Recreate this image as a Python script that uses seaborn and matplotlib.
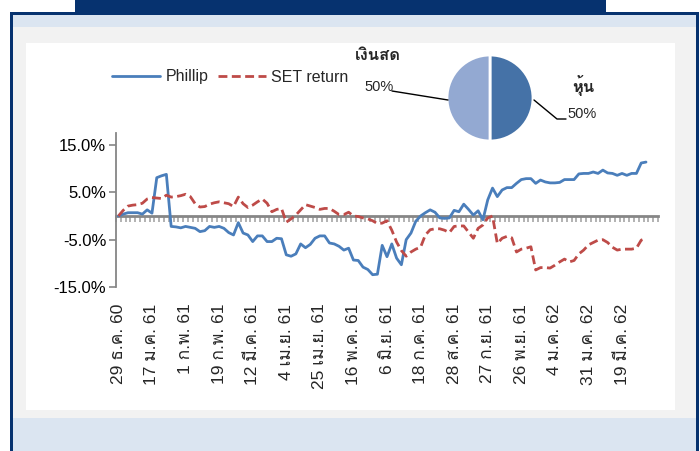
import numpy as np
import pandas as pd
import matplotlib
matplotlib.use("Agg")
import matplotlib.pyplot as plt
import seaborn as sns
from matplotlib import font_manager as fm
from matplotlib.ft2font import FT2Font
from matplotlib.patches import Rectangle
from matplotlib.lines import Line2D

# ---------------- data ----------------
phillip = [
    0.0, 0.4, 0.7, 0.7, 0.7, 0.4, 1.3, 0.6, 8.1, 8.5,
    8.8, -2.2, -2.3, -2.5, -2.2, -2.4, -2.6, -3.3, -3.1, -2.2,
    -2.4, -2.2, -2.6, -3.5, -4.0, -1.4, -3.6, -4.0, -5.4, -4.2,
    -4.2, -5.4, -5.4, -4.7, -4.8, -8.2, -8.5, -8.0, -5.9, -6.7,
    -6.0, -4.7, -4.2, -4.2, -5.7, -5.9, -6.4, -7.2, -6.8, -9.3,
    -9.4, -10.8, -11.3, -12.4, -12.3, -6.2, -8.6, -5.9, -8.9, -10.3,
    -5.0, -3.6, -1.1, 0.0, 0.7, 1.3, 0.8, -0.4, -0.5, -0.4,
    1.2, 0.9, 2.5, 1.4, 0.2, 1.1, -0.8, 3.4, 5.9, 4.1,
    5.5, 6.0, 6.0, 6.9, 7.7, 7.9, 7.9, 6.9, 7.6, 7.2,
    7.0, 7.0, 7.1, 7.7, 7.7, 7.7, 8.9, 9.0, 9.0, 9.3,
    9.0, 9.7, 9.1, 9.0, 8.6, 9.0, 8.6, 9.0, 9.0, 11.2,
    11.4,
]
set_return = [
    0.0, 1.2, 2.1, 2.3, 2.4, 2.7, 3.6, 3.9, 3.8, 3.7,
    4.4, 4.0, 4.1, 4.3, 4.6, 4.1, 2.6, 1.9, 2.0, 2.5,
    2.8, 3.0, 2.8, 2.6, 2.0, 4.0, 2.6, 1.8, 2.3, 3.0,
    3.6, 2.7, 0.9, 1.4, 1.6, -1.3, -0.6, 0.2, 1.3, 2.4,
    2.1, 1.8, 1.4, 1.6, 1.6, 1.0, 0.3, 0.3, 0.8, 0.0,
    -0.1, -0.4, -0.6, -1.0, -1.6, -1.5, -1.0, -3.0, -5.5, -7.3,
    -8.5, -7.6, -7.0, -6.6, -4.0, -2.9, -2.7, -2.7, -3.0, -3.5,
    -2.2, -2.1, -2.1, -3.4, -4.7, -2.6, -1.9, -0.4, 0.0, -5.8,
    -4.7, -4.3, -4.6, -7.6, -7.0, -6.8, -6.5, -11.4, -10.9, -10.9,
    -11.0, -10.4, -9.7, -9.1, -9.7, -9.4, -8.0, -7.2, -6.1, -5.6,
    -5.1, -5.0, -5.6, -6.6, -7.2, -7.0, -7.0, -7.0, -6.8, -5.1,
    -4.7,
]
date_labels = [
    "29 ธ.ค. 60", "17 ม.ค. 61", "1 ก.พ. 61", "19 ก.พ. 61", "12 มี.ค. 61",
    "4 เม.ย. 61", "25 เม.ย. 61", "16 พ.ค. 61", "6 มิ.ย. 61", "18 ก.ค. 61",
    "28 ส.ค. 61", "27 ก.ย. 61", "26 พ.ย. 61", "4 ม.ค. 62", "31 ม.ค. 62",
    "19 มี.ค. 62",
]
series_names = ["Phillip", "SET return"]
yticks = [-15, -5, 5, 15]
pie_labels = ["หุ้น", "เงินสด"]
pie_values = [50, 50]

LABEL_STEP = 7
N_CAT = 113

# ---------------- fonts ----------------
def find_font(chars):
    seen = set()
    for f in fm.fontManager.ttflist:
        if f.fname in seen:
            continue
        seen.add(f.fname)
        try:
            cm = FT2Font(f.fname).get_charmap()
        except Exception:
            continue
        if all(ord(c) in cm for c in chars):
            return f.name
    return None

thai = find_font("ธคมิ")
sns.set_style("white")
fams = ["Liberation Sans"] + ([thai] if thai else []) + ["DejaVu Sans"]
plt.rcParams["font.family"] = fams

W, H = 700, 451
fig = plt.figure(figsize=(W / 100, H / 100), dpi=100)
fig.patch.set_facecolor("white")

def frect(x0, y0, x1, y1, color):
    fig.add_artist(Rectangle((x0 / W, 1 - y1 / H), (x1 - x0) / W, (y1 - y0) / H,
                             transform=fig.transFigure, facecolor=color,
                             edgecolor="none", zorder=-10))

NAVY = "#06326f"
frect(75, 0, 606, 13, NAVY)
frect(10, 12, 699, 451, NAVY)
frect(13, 15, 696, 451, "#dbe5f1")
frect(13, 27, 696, 418, "#f2f2f2")
frect(26, 43, 675, 410, "white")

# ---------------- main line chart ----------------
ax = fig.add_axes([116 / W, 1 - 287 / H, (658 - 116) / W, (287 - 133.2) / H])
ax.set_facecolor("none")
df = pd.DataFrame({"idx": np.arange(len(phillip)),
                   series_names[0]: phillip, series_names[1]: set_return})
sns.lineplot(data=df, x="idx", y=series_names[0], ax=ax, color="#4a7ebb",
             linewidth=2.0, label=series_names[0])
sns.lineplot(data=df, x="idx", y=series_names[1], ax=ax, color="#be4b48",
             linewidth=2.0, label=series_names[1])
ax.lines[1].set_dashes((3.2, 1.6))
handles, labels = ax.get_legend_handles_labels()
if ax.get_legend():
    ax.get_legend().remove()

ax.set_xlim(-0.5, N_CAT - 0.5)
ax.set_ylim(-15, 17.5)
ax.set_xlabel("")
ax.set_ylabel("")
ax.set_yticks(yticks)
ax.set_yticklabels([f"{v:.1f}%" for v in yticks])
ax.tick_params(axis="y", direction="out", length=5, width=1.2, color="#868686",
               labelsize=12, pad=2, left=True, labelcolor="black")
for s in ["top", "right"]:
    ax.spines[s].set_visible(False)
ax.spines["left"].set_color("#868686")
ax.spines["left"].set_linewidth(1.3)
ax.spines["bottom"].set_position(("data", 0))
ax.spines["bottom"].set_color("#868686")
ax.spines["bottom"].set_linewidth(2.0)
ax.spines["bottom"].set_zorder(1)
ax.set_xticks([])
ax.set_xticks(np.arange(-0.5, N_CAT, 1), minor=True)
ax.tick_params(axis="x", which="minor", direction="out", length=4, width=1.2,
               color="#a6a6a6", bottom=True)

sec = ax.secondary_xaxis("bottom")
sec.set_xticks(np.arange(0, LABEL_STEP * len(date_labels), LABEL_STEP),
               labels=date_labels)
sec.tick_params(length=0, pad=12, labelsize=12.5, labelrotation=90)
sec.spines["bottom"].set_visible(False)

fig.legend(handles, labels, loc="center left", bbox_to_anchor=(112 / W, 1 - 77 / H),
           ncol=2, frameon=False, fontsize=11.5, handlelength=3.0,
           handletextpad=0.35, columnspacing=0.6, borderpad=0, borderaxespad=0)

# ---------------- pie ----------------
axp = fig.add_axes([447 / W, 1 - 141 / H, 86 / W, 86 / H])
axp.pie(pie_values, colors=["#4572a7", "#93a9d2"], startangle=90, counterclock=False,
        wedgeprops=dict(edgecolor="white", linewidth=2))
axp.set_xlim(-1, 1)
axp.set_ylim(-1, 1)
axp.set_aspect("equal")

fig.text(378 / W, 1 - 55 / H, pie_labels[1], fontsize=12, fontweight="bold",
         ha="center", va="center")
fig.text(379 / W, 1 - 87 / H, f"{pie_values[1]}%", fontsize=10.5, ha="center", va="center")
fig.text(583 / W, 1 - 86 / H, pie_labels[0], fontsize=12, fontweight="bold",
         ha="center", va="center")
fig.text(582 / W, 1 - 114 / H, f"{pie_values[0]}%", fontsize=10.5, ha="center", va="center")

def fline(xs, ys):
    fig.add_artist(Line2D([x / W for x in xs], [1 - y / H for y in ys],
                          transform=fig.transFigure, color="black", lw=1.0))

fline([392, 448], [91, 100])
fline([534, 557, 566], [100, 119, 119])

fig.savefig("out.png", dpi=100)
